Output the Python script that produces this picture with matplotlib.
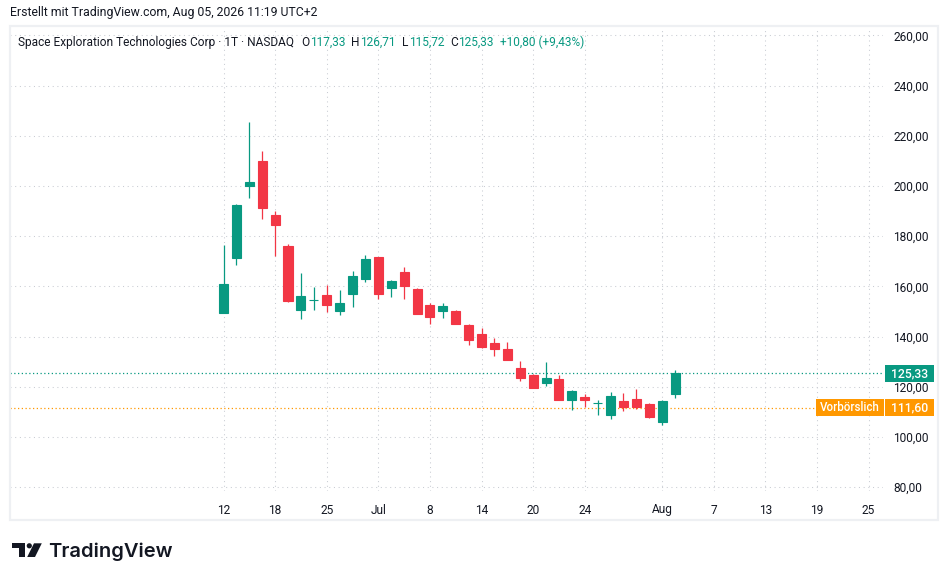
import matplotlib
matplotlib.use("Agg")
import matplotlib.pyplot as plt
from matplotlib.patches import Rectangle, Polygon, Circle
import numpy as np

# ---------------- data ----------------
dates = ["Jun 12", "Jun 15", "Jun 16", "Jun 17", "Jun 18", "Jun 22", "Jun 23", "Jun 24",
         "Jun 25", "Jun 26", "Jun 29", "Jun 30", "Jul 1", "Jul 2", "Jul 6", "Jul 7",
         "Jul 8", "Jul 9", "Jul 10", "Jul 13", "Jul 14", "Jul 15", "Jul 16", "Jul 17",
         "Jul 20", "Jul 21", "Jul 22", "Jul 23", "Jul 24", "Jul 27", "Jul 28", "Jul 29",
         "Jul 30", "Jul 31", "Aug 3", "Aug 4"]
opens = [149.6, 171.5, 200.0, 210.0, 188.5, 176.1, 150.6, 154.4, 156.6, 150.2, 157.0, 163.0,
         171.8, 159.4, 165.8, 159.0, 152.6, 150.2, 150.2, 144.7, 141.1, 137.5, 135.1, 127.5,
         124.9, 121.6, 123.1, 114.8, 116.0, 113.6, 108.8, 114.3, 115.1, 113.1, 105.9, 117.33]
highs = [176.5, 192.9, 225.5, 214.0, 190.1, 176.9, 165.4, 159.8, 160.6, 158.6, 166.2, 172.7,
         171.9, 162.4, 167.8, 159.4, 153.4, 153.4, 150.6, 145.1, 143.5, 139.5, 138.0, 130.3,
         125.1, 129.9, 124.7, 118.8, 117.2, 114.8, 118.0, 117.6, 119.2, 113.6, 114.8, 126.71]
lows = [149.5, 168.7, 195.4, 187.0, 172.3, 153.8, 147.1, 150.6, 149.8, 148.6, 151.8, 161.8,
        155.0, 155.8, 155.0, 148.9, 145.1, 147.5, 145.0, 136.7, 135.5, 132.3, 130.6, 122.4,
        119.4, 120.4, 114.8, 110.8, 112.0, 108.8, 107.2, 110.4, 111.2, 107.5, 104.7, 115.72]
closes = [161.0, 192.5, 201.6, 191.4, 184.6, 154.2, 156.2, 154.4, 152.6, 153.4, 164.2, 171.0,
          157.0, 162.2, 160.3, 149.0, 147.8, 152.2, 145.1, 138.7, 135.9, 135.1, 130.7, 123.5,
          119.6, 123.5, 114.9, 118.4, 114.8, 113.6, 116.4, 112.0, 112.0, 107.9, 114.53, 125.33]
premarket_price = 111.60

tick_pos = [0, 4, 8, 12, 16, 20, 24, 28, 34, 38, 42, 46, 50]
tick_labels = ["12", "18", "25", "Jul", "8", "14", "20", "24", "Aug", "7", "13", "19", "25"]
y_ticks = [80, 100, 120, 140, 160, 180, 200, 220, 240, 260]

# ---------------- style ----------------
GREEN = "#089981"
RED = "#F23645"
ORANGE = "#FF9800"
TXT = "#131722"
GRID = "#c9ccd3"

plt.rcParams['font.family'] = ['Roboto', 'DejaVu Sans']

W, H = 948, 581
fig = plt.figure(figsize=(W / 100, H / 100), dpi=100)
fig.patch.set_facecolor("white")


def fx(px):
    return px / W


def fy(py):
    return 1 - py / H


def fmt(v):
    return f"{v:.2f}".replace(".", ",")


ax = fig.add_axes([fx(10), fy(491), fx(883) - fx(10), fy(26.7) - fy(491)])
ax.set_xlim(-16.55, 51.12)
ax.set_ylim(78.48, 263.5)
for s in ax.spines.values():
    s.set_visible(False)

ax.set_xticks(tick_pos)
ax.set_xticklabels(tick_labels)
ax.set_yticks(y_ticks)
ax.set_yticklabels([fmt(v) for v in y_ticks])
ax.yaxis.tick_right()
ax.tick_params(axis="both", length=0, colors=TXT, labelsize=8.6)
ax.tick_params(axis="y", pad=7.5)
ax.tick_params(axis="x", pad=9)
ax.grid(True, color=GRID, linewidth=0.75, linestyle=(0, (1, 3.5)))
ax.set_axisbelow(True)

x = np.arange(len(dates))
o = np.array(opens)
h = np.array(highs)
l = np.array(lows)
c = np.array(closes)
cols = [GREEN if cc >= oo else RED for oo, cc in zip(o, c)]

ax.vlines(x, l, h, colors=cols, linewidth=0.9, zorder=3)
ax.bar(x, np.abs(c - o), bottom=np.minimum(o, c), width=0.7, color=cols,
       edgecolor=cols, linewidth=0.8, zorder=4)

last_close = closes[-1]
ax.axhline(last_close, color=GREEN, linewidth=0.9, linestyle=(0, (1, 2)), zorder=2)
ax.axhline(premarket_price, color=ORANGE, linewidth=0.9, linestyle=(0, (1, 2)), zorder=2)

# ---------------- price tags ----------------
fig.canvas.draw()


def data_to_py(val):
    disp = ax.transData.transform((0, val))
    return H - disp[1]


def tag(x0, x1, yc, color, text, fs=8.8):
    hgt = 17
    r = Rectangle((fx(x0), fy(yc + hgt / 2)), fx(x1) - fx(x0), hgt / H,
                  transform=fig.transFigure, facecolor=color, edgecolor="none", zorder=10)
    fig.add_artist(r)
    fig.text(fx((x0 + x1) / 2), fy(yc), text, color="white", fontsize=fs,
             ha="center", va="center", zorder=11, fontweight="medium")


yc_last = data_to_py(last_close)
tag(885, 934, yc_last, GREEN, fmt(last_close))
yc_pre = data_to_py(premarket_price)
tag(816, 884, yc_pre, ORANGE, "Vorbörslich", fs=8.3)
tag(885, 934, yc_pre, ORANGE, fmt(premarket_price))

# ---------------- frame ----------------
frame = Rectangle((fx(10), fy(520)), fx(938) - fx(10), (520 - 26) / H,
                  transform=fig.transFigure, facecolor="none", edgecolor="#eef0f3",
                  linewidth=1.6, zorder=1)
fig.add_artist(frame)

# ---------------- header texts ----------------
fig.text(fx(10), fy(12.5), "Erstellt mit TradingView.com, Aug 05, 2026 11:19 UTC+2",
         color=TXT, fontsize=8.8, ha="left", va="center")

prev_close = closes[-2]
chg = last_close - prev_close
pct = chg / prev_close * 100
pieces = [("Space Exploration Technologies Corp · 1T · NASDAQ", TXT, 7),
          ("O", TXT, 0.5), (fmt(opens[-1]), GREEN, 6),
          ("H", TXT, 0.5), (fmt(highs[-1]), GREEN, 6),
          ("L", TXT, 0.5), (fmt(lows[-1]), GREEN, 6),
          ("C", TXT, 0.5), (fmt(last_close), GREEN, 6),
          (("+" if chg >= 0 else "") + fmt(chg) + " (" + ("+" if pct >= 0 else "") + fmt(pct) + "%)", GREEN, 0)]
renderer = fig.canvas.get_renderer()
cur = 18
for txt, col, gap in pieces:
    t = fig.text(fx(cur), fy(42.5), txt, color=col, fontsize=8.6, ha="left", va="center", zorder=12)
    bb = t.get_window_extent(renderer=renderer)
    cur = bb.x1 + gap

# ---------------- logo ----------------
def poly(pts, **kw):
    p = Polygon([(fx(a), fy(b)) for a, b in pts], closed=True, transform=fig.transFigure,
                facecolor="#131722", edgecolor="none", **kw)
    fig.add_artist(p)


poly([(12, 543.3), (25, 543.3), (25, 557), (18.6, 557), (18.6, 548.3), (12, 548.3)])
circ = Circle((fx(29.3), fy(545.8)), 2.6 / H, transform=fig.transFigure, facecolor="#131722",
              edgecolor="none")
# keep the dot round in figure fraction coordinates
from matplotlib.patches import Ellipse
fig.add_artist(Ellipse((fx(29.3), fy(545.8)), 5.2 / W, 5.2 / H, transform=fig.transFigure,
                       facecolor="#131722", edgecolor="none"))
poly([(34.0, 543.3), (41.8, 543.3), (35.0, 557), (27.2, 557)])
fig.text(fx(48.5), fy(551.5), "TradingView", color="#131722", fontsize=14.5,
         fontweight="semibold", family=["Inter", "DejaVu Sans"], ha="left", va="center")

fig.savefig("out.png", dpi=100, facecolor="white")
